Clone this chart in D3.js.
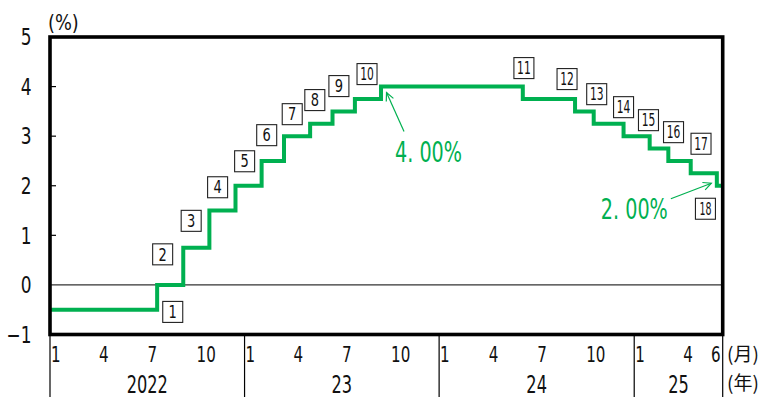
<!DOCTYPE html>
<html>
<head>
<meta charset="utf-8">
<script src="https://cdn.jsdelivr.net/npm/d3@7"></script>
<style>
  html, body { margin: 0; padding: 0; background: #fff; }
  svg { display: block; }
  text { font-family: "DejaVu Sans Condensed", "Liberation Sans", "Noto Sans", sans-serif; }
</style>
</head>
<body>
<svg id="chart" width="771" height="397"></svg>
<script>
// ---------------- data ----------------
const startDate = "2022-01-01";
const endDate = "2025-06-16";
const startRate = -0.5;
const changeDates = ["2022-07-21","2022-09-08","2022-10-27","2022-12-15","2023-02-02","2023-03-16",
  "2023-05-04","2023-06-15","2023-07-27","2023-09-14","2024-06-06","2024-09-12","2024-10-17",
  "2024-12-12","2025-01-30","2025-03-06","2025-04-17","2025-06-05"];
const changeRates = [0.00,0.75,1.50,2.00,2.50,3.00,3.25,3.50,3.75,4.00,3.75,3.50,3.25,3.00,2.75,2.50,2.25,2.00];
const changeLabels = ["1","2","3","4","5","6","7","8","9","10","11","12","13","14","15","16","17","18"];
// label offsets (px) from each step point
const labelDx = [15.6,-20.6,-18.2,-17.9,-17,-17.3,-17.9,-17.7,-16,-14,1.1,-8,3,0,-1.2,5.2,10.3,-11.4];
const labelDy = [27,6.6,10.3,1.5,0.3,-1,-9.6,-11.3,-12.9,-12.5,-30.9,-32.3,-29.6,-29,-28.4,-28.8,-29.6,23];
const yTicks = [-1,0,1,2,3,4,5];
const monthTicks = [1,4,7,10];
const years = [2022,2023,2024,2025];
const yearLabels = ["2022","23","24","25"];
const green = "#00b050";

// ---------------- layout ----------------
const svg = d3.select("#chart");
const L = 50, R = 722.7, T = 37, B = 334.5;
const parse = d3.timeParse("%Y-%m-%d");
const x = d3.scaleTime().domain([parse(startDate), parse(endDate)]).range([L, R]);
const y = d3.scaleLinear().domain([-1, 5]).range([B, T]);

// condensed text helper
function ctext(sel, px, py, sx, size, anchor) {
  return sel.append("text").attr("transform", `translate(${px},${py}) scale(${sx},1)`)
    .attr("font-size", size).attr("text-anchor", anchor || "start").attr("fill", "#111");
}

const pts = [{d: parse(startDate), v: startRate}];
changeDates.forEach((d, i) => pts.push({d: parse(d), v: changeRates[i]}));
pts.push({d: parse(endDate), v: changeRates[changeRates.length - 1]});

// zero line
svg.append("line").attr("x1", L).attr("x2", R).attr("y1", y(0)).attr("y2", y(0))
  .attr("stroke", "#333").attr("stroke-width", 1.3);

// y ticks (inside)
svg.selectAll(".yt").data(yTicks.filter(v => v > -1 && v < 5 && v !== 0)).enter().append("line")
  .attr("x1", L).attr("x2", L + 6).attr("y1", d => y(d)).attr("y2", d => y(d))
  .attr("stroke", "#000").attr("stroke-width", 1.2);

// y labels
yTicks.forEach(v => {
  ctext(svg, 31.5, y(v) + 8.3, 0.82, 23, "end").text(v < 0 ? "\u2212" + Math.abs(v) : v);
});

ctext(svg, 48, 30, 0.9, 22, "start").text("(%)");

// step line
const line = d3.line().x(d => x(d.d)).y(d => y(d.v)).curve(d3.curveStepAfter);
svg.append("path").datum(pts).attr("d", line).attr("fill", "none")
  .attr("stroke", green).attr("stroke-width", 4).attr("stroke-linejoin", "miter");

// frame
svg.append("rect").attr("x", L).attr("y", T).attr("width", R - L).attr("height", B - T)
  .attr("fill", "none").attr("stroke", "#000").attr("stroke-width", 3.6);

// numbered boxes
const boxes = svg.selectAll(".bx").data(changeDates).enter().append("g")
  .attr("transform", (d, i) => `translate(${x(parse(d)) + labelDx[i]},${y(changeRates[i]) + labelDy[i]})`);
boxes.append("rect").attr("x", -10).attr("y", -10.5).attr("width", 20).attr("height", 21)
  .attr("fill", "#fff").attr("stroke", "#222").attr("stroke-width", 1.1);
boxes.each(function(d, i) {
  const lab = changeLabels[i];
  const sx = lab.length > 1 ? (i === 17 ? 0.62 : 0.7) : 0.85;
  ctext(d3.select(this), 0, 6.2, sx, 17, "middle").text(lab);
});

// annotations
function arrow(x1, y1, x2, y2) {
  svg.append("line").attr("x1", x1).attr("y1", y1).attr("x2", x2).attr("y2", y2)
    .attr("stroke", green).attr("stroke-width", 1.2);
  const a = Math.atan2(y2 - y1, x2 - x1), len = 9, sp = 0.45;
  svg.append("path")
    .attr("d", `M${x2 - len * Math.cos(a - sp)},${y2 - len * Math.sin(a - sp)}L${x2},${y2}L${x2 - len * Math.cos(a + sp)},${y2 - len * Math.sin(a + sp)}`)
    .attr("fill", "none").attr("stroke", green).attr("stroke-width", 1.2);
}
const p10 = {x: x(parse(changeDates[9])), y: y(changeRates[9])};
arrow(p10.x + 23, p10.y + 45, p10.x + 5.5, p10.y + 6);
svg.append("text").attr("x", p10.x + 14).attr("y", p10.y + 75).attr("font-size", 28).attr("fill", green)
  .attr("textLength", 67).attr("lengthAdjust", "spacingAndGlyphs").text("4. 00%");
const p18 = {x: x(parse(changeDates[17])), y: y(changeRates[17])};
arrow(p18.x - 46, p18.y + 13, p18.x - 5.5, p18.y - 2.5);
svg.append("text").attr("x", p18.x - 116).attr("y", p18.y + 33).attr("font-size", 28).attr("fill", green)
  .attr("textLength", 67).attr("lengthAdjust", "spacingAndGlyphs").text("2. 00%");

// x axis: year dividers
const dividers = years.map(yy => x(new Date(yy, 0, 1))).concat([R]);
svg.selectAll(".dv").data(dividers).enter().append("line")
  .attr("x1", d => d).attr("x2", d => d).attr("y1", B).attr("y2", 397)
  .attr("stroke", "#000").attr("stroke-width", 1.2);

// month labels
const monthData = [];
years.forEach(yy => monthTicks.forEach(m => {
  const dt = new Date(yy, m - 1, 1);
  if (dt <= parse(endDate)) monthData.push({dt, m});
}));
monthData.push({dt: new Date(2025, 5, 1), m: 6, last: true});
monthData.forEach(d => {
  ctext(svg, d.last ? R - 2 : x(d.dt) + 1, 361.5, 0.8, 21, d.last ? "end" : "start").text(d.m);
});

// year labels
years.forEach((yy, i) => {
  ctext(svg, (dividers[i] + dividers[i + 1]) / 2, 392.5, 0.75, 24, "middle").text(yearLabels[i]);
});

svg.append("text").attr("x", 727).attr("y", 361).attr("font-size", 19).attr("fill", "#111")
  .style("font-family", "'Noto Sans CJK JP', sans-serif").text("(月)");
svg.append("text").attr("x", 727).attr("y", 390).attr("font-size", 19).attr("fill", "#111")
  .style("font-family", "'Noto Sans CJK JP', sans-serif").text("(年)");
</script>
</body>
</html>
